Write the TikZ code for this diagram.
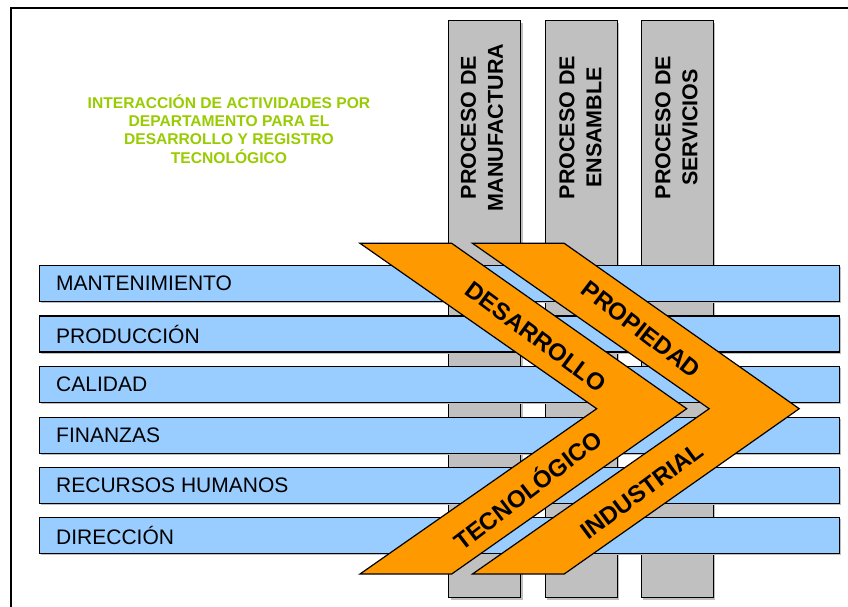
\documentclass[tikz,border=0pt]{standalone}
\usepackage{fontspec}
\setmainfont{Liberation Sans}
\usetikzlibrary{shadows}
\definecolor{barGray}{HTML}{C0C0C0}
\definecolor{barBlue}{HTML}{99CCFF}
\definecolor{chevOrange}{HTML}{FF9900}
\definecolor{titleGreen}{HTML}{99CC00}
\begin{document}
\begin{tikzpicture}[x=1pt,y=-1pt,
  graybar/.style={draw=black, line width=1.4pt, fill=barGray, minimum width=72pt, minimum height=577pt, inner sep=0pt, anchor=north west,
    drop shadow={shadow xshift=2pt, shadow yshift=-2pt, fill=black!25, opacity=1}},
  bluebar/.style={draw=black, line width=1.4pt, fill=barBlue, minimum width=800pt, minimum height=36pt, inner sep=0pt, anchor=north west,
    drop shadow={shadow xshift=1.5pt, shadow yshift=-1.5pt, fill=black!25, opacity=1}},
  deptlabel/.style={anchor=west, inner sep=0pt, font=\fontsize{21}{25}\selectfont},
  proclabel/.style={rotate=90, align=center, inner sep=0pt, font=\fontsize{21.5}{27}\selectfont\bfseries},
  chevron/.style={draw=black, line width=1.2pt, fill=chevOrange, line join=miter},
  chevtext/.style={inner sep=0pt, font=\fontsize{24}{28}\selectfont\bfseries},
  titletext/.style={align=center, inner sep=0pt, text=titleGreen, font=\fontsize{15.6}{18.3}\selectfont\bfseries}
]
\useasboundingbox (0,0) rectangle (848,607);
\fill[white] (0,0) rectangle (848,607);
% frame
\draw[line width=2pt] (11,607) -- (11,8) -- (848,8);

% title
\node[titletext] (title) at (229,129) {INTERACCIÓN DE ACTIVIDADES POR\\DEPARTAMENTO PARA EL\\DESARROLLO Y REGISTRO\\TECNOLÓGICO};

% vertical process bars
\node[graybar] (p1) at (448,20) {};
\node[graybar] (p2) at (544.5,20) {};
\node[graybar] (p3) at (640.5,20) {};
\node[proclabel] (l1) at (482,127.5) {PROCESO DE\\MANUFACTURA};
\node[proclabel] (l2) at (580.5,127.5) {PROCESO DE\\ENSAMBLE};
\node[proclabel] (l3) at (676.5,127.5) {PROCESO DE\\SERVICIOS};

% horizontal department bars
\node[bluebar] (b1) at (39,265) {};
\node[bluebar] (b2) at (39,315.3) {};
\node[bluebar] (b3) at (39,365.7) {};
\node[bluebar] (b4) at (39,416.5) {};
\node[bluebar] (b5) at (39,466.7) {};
\node[bluebar] (b6) at (39,516.9) {};
\node[deptlabel] (d1) at ([xshift=17pt]b1.west) {MANTENIMIENTO};
\node[deptlabel] (d2) at ([xshift=17pt]b2.west) {PRODUCCIÓN};
\node[deptlabel] (d3) at ([xshift=17pt]b3.west) {CALIDAD};
\node[deptlabel] (d4) at ([xshift=17pt]b4.west) {FINANZAS};
\node[deptlabel] (d5) at ([xshift=17pt]b5.west) {RECURSOS HUMANOS};
\node[deptlabel] (d6) at ([xshift=17pt]b6.west) {DIRECCIÓN};

% chevrons
\draw[chevron] (360,243.3) -- (451.7,243.3) -- (686.7,408.7) -- (451.7,574) -- (360,574) -- (596.7,408.7) -- cycle;
\draw[chevron] (472.5,243.3) -- (564.2,243.3) -- (799.2,408.7) -- (564.2,574) -- (472.5,574) -- (709.2,408.7) -- cycle;

\node[chevtext, rotate=-36.5] (c1) at (536,337) {DESARROLLO};
\node[chevtext, rotate=-37.5] (c2) at (641,329.5) {PROPIEDAD};
\node[chevtext, rotate=37.5] (c3) at (527,489) {TECNOLÓGICO};
\node[chevtext, rotate=36.5] (c4) at (642,491) {INDUSTRIAL};
\end{tikzpicture}
\end{document}
